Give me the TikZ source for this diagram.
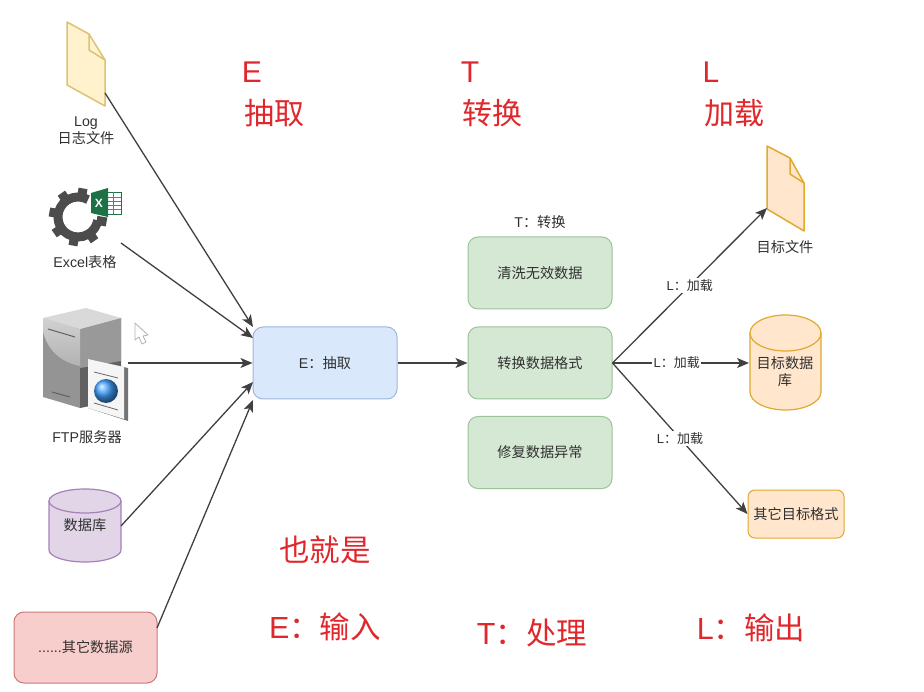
\documentclass[tikz,border=0pt]{standalone}
\usepackage{fontspec}
\setmainfont{Liberation Sans}
\newfontfamily\cjk{Noto Sans CJK SC}
\usetikzlibrary{arrows.meta,shadings}
\definecolor{redtxt}{HTML}{E0272B}
\definecolor{labeltxt}{HTML}{303030}
\tikzset{
  x=1pt,y=-1pt,
  lab/.style={font=\fontsize{14.2}{17}\selectfont,text=labeltxt,align=center,inner sep=0pt},
  small/.style={font=\fontsize{13}{15}\selectfont,text=labeltxt,inner sep=1.5pt,fill=white},
  big/.style={font=\fontsize{30}{36}\selectfont,text=redtxt,inner sep=0pt},
  mid/.style={font=\fontsize{30.5}{36}\selectfont,text=redtxt,inner sep=0pt},
  rbox/.style={draw,rounded corners=10pt,line width=1pt,lab},
  bluebox/.style={rbox,fill=bluef,draw=blued,minimum width=144pt,minimum height=72pt},
  greenbox/.style={rbox,fill=greenf,draw=greend,minimum width=144pt,minimum height=72pt},
  conn/.style={draw=black!75,line width=1.3pt,-{Stealth[length=12pt,width=10pt,inset=3pt]}},
  sheet/.style={line width=1.5pt,line join=round}
}
\definecolor{bluef}{HTML}{DAE8FC}\definecolor{blued}{HTML}{9DB7DB}
\definecolor{greenf}{HTML}{D5E8D4}\definecolor{greend}{HTML}{9CC39A}
\definecolor{yelf}{HTML}{FFF2CC}\definecolor{yeld}{HTML}{DCC274}
\definecolor{orf}{HTML}{FFE6CC}\definecolor{ord}{HTML}{E0A92F}
\definecolor{purf}{HTML}{E1D5E7}\definecolor{purd}{HTML}{A680B8}
\definecolor{pinkf}{HTML}{F8CECC}\definecolor{pinkd}{HTML}{C97A78}
\definecolor{xlgreen}{HTML}{1E7145}
\begin{document}
\begin{tikzpicture}
\useasboundingbox (0,0) rectangle (924,692);
% Log file
\draw[sheet,fill=yelf,draw=yeld] (67,22) -- (89,34) -- (105,60) -- (105,106) -- (67,85) -- cycle;
\draw[sheet,draw=yeld] (89,34) -- (89,50) -- (105,60);
\node[lab] (loglabel) at (86,131) {Log\\{\cjk 日志文件}};
\coordinate (logout) at (105,93);
% Gear
\begin{scope}[shift={(78,217)}]
  \draw[line width=9pt,draw=black!70] (-60:20) arc[start angle=60,end angle=350,radius=20pt];
  \foreach \a in {-80,-125,-170,-215,-260,-305,-350}{
    \draw[line width=9pt,draw=black!70] (\a:19) -- (\a:29);
  }
\end{scope}
% Excel icon
\draw[draw=xlgreen,fill=white,line width=.8pt] (104,192) rectangle (121,214);
\foreach \y in {197,201,205,209}{\draw[xlgreen!80,line width=.8pt] (107,\y) -- (121,\y);}
\draw[xlgreen!80,line width=.8pt] (113,192) -- (113,214);
\fill[xlgreen] (91,193) -- (108,188) -- (108,217) -- (91,213) -- cycle;
\node[font=\fontsize{12}{12}\selectfont\bfseries,text=white,inner sep=0pt] (xl) at (99,203) {X};
\node[lab] (excellabel) at (85,262) {Excel{\cjk 表格}};
\coordinate (excelout) at (121,243);
% FTP server
\fill[black!42] (43,318) -- (80,329) -- (80,408) -- (43,397) -- cycle;
\fill[black!62] (80,329) -- (121,318) -- (121,400) -- (80,408) -- cycle;
\fill[black!40] (80,329) -- (121,318) -- (121,361) -- (80,368) -- cycle;
\fill[black!15] (43,318) -- (86,308) -- (121,318) -- (80,329) -- cycle;
\shade[top color=black!18,bottom color=black!30] (43,318) -- (80,329) -- (80,366) .. controls (60,362) and (48,350) .. (43,332) -- cycle;
\draw[black!62,line width=1pt] (48,329) -- (75,337) (52,392) -- (70,397);
\fill[black!55] (88,359) -- (128,368) -- (128,421) -- (88,408) -- cycle;
\fill[black!4] (88,359) -- (124,367) -- (124,419) -- (88,408) -- cycle;
\draw[black!60,line width=.8pt] (94,372) -- (118,378) (94,403) -- (118,410);
\shade[ball color=cyan!50!blue!75] (106,391) circle (12);
\node[lab] (ftplabel) at (87,437) {FTP{\cjk 服务器}};
\coordinate (ftpout) at (128,363);
% Cursor
\draw[black!30,fill=white,line width=.8pt,line join=round] (135,323) -- (148,335) -- (143,336) -- (146,342) -- (142,344) -- (139,337) -- (135,340) -- cycle;
% Source DB
\draw[line width=1.2pt,fill=purf,draw=purd] (49,501) -- (49,550) arc[start angle=180,end angle=360,x radius=36pt,y radius=12pt] -- (121,501) arc[start angle=0,end angle=180,x radius=36pt,y radius=12pt] -- cycle;
\draw[line width=1.2pt,draw=purd] (49,501) arc[start angle=180,end angle=360,x radius=36pt,y radius=12pt];
\node[lab] (dbsrc) at (85,525) {\cjk 数据库};
\coordinate (dbout) at (121,526);
% Other source
\node[rbox,fill=pinkf,draw=pinkd,minimum width=143pt,minimum height=71pt] (other) at (85.5,647.5) {......{\cjk 其它数据源}};
\coordinate (otherout) at (157,628);
% Centre boxes
\node[bluebox] (extract) at (325,363) {E{\cjk ：抽取}};
\node[lab] (tcap) at (540,222) {T{\cjk ：转换}};
\node[greenbox] (clean) at (540,273) {\cjk 清洗无效数据};
\node[greenbox] (conv) at (540,363) {\cjk 转换数据格式};
\node[greenbox] (fix) at (540,452.5) {\cjk 修复数据异常};
% Targets
\draw[sheet,fill=orf,draw=ord] (767,146) -- (790,158) -- (804,183) -- (804,231) -- (767,209) -- cycle;
\draw[sheet,draw=ord] (790,158) -- (790,174) -- (804,183);
\node[lab] (tfilelabel) at (785,247) {\cjk 目标文件};
\coordinate (tfile) at (767,208);
\draw[line width=1.2pt,fill=orf,draw=ord] (750,333) -- (750,392) arc[start angle=180,end angle=360,x radius=35.5pt,y radius=18pt] -- (821,333) arc[start angle=0,end angle=180,x radius=35.5pt,y radius=18pt] -- cycle;
\draw[line width=1.2pt,draw=ord] (750,333) arc[start angle=180,end angle=360,x radius=35.5pt,y radius=18pt];
\node[lab] (tdb) at (785,372) {\cjk 目标数据\\\cjk 库};
\coordinate (tdbin) at (749,363);
\node[rbox,fill=orf,draw=ord,rounded corners=7pt,minimum width=96pt,minimum height=48pt] (tother) at (796,514) {\cjk 其它目标格式};
% Connectors
\draw[conn] (logout) -- (253,327);
\draw[conn] (excelout) -- (253,338);
\draw[conn] (ftpout) -- (extract.west);
\draw[conn] (dbout) -- (253,382);
\draw[conn] (otherout) -- (253,400);
\draw[conn] (extract.east) -- (conv.west);
\draw[conn] (conv.east) -- node[small,pos=.5] (l1) {L{\cjk ：加载}} (tfile);
\draw[conn] (conv.east) -- node[small,pos=.47] (l2) {L{\cjk ：加载}} (tdbin);
\draw[conn] (conv.east) -- node[small,pos=.5] (l3) {L{\cjk ：加载}} (tother.west);
% Red notes
\node[big] (eh) at (252,72) {E};
\node[big] (en) at (274,113) {\cjk 抽取};
\node[big] (th) at (470,72) {T};
\node[big] (tn) at (492,113) {\cjk 转换};
\node[big] (lh) at (711,72) {L};
\node[big] (ln) at (734,113) {\cjk 加载};
\node[mid] (also) at (325,550) {\cjk 也就是};
\node[mid] (ein) at (325,627) {E{\cjk ：输入}};
\node[mid] (tpr) at (532,633) {T{\cjk ：处理}};
\node[mid] (lout) at (751,628) {L{\cjk ：输出}};
\end{tikzpicture}
\end{document}
